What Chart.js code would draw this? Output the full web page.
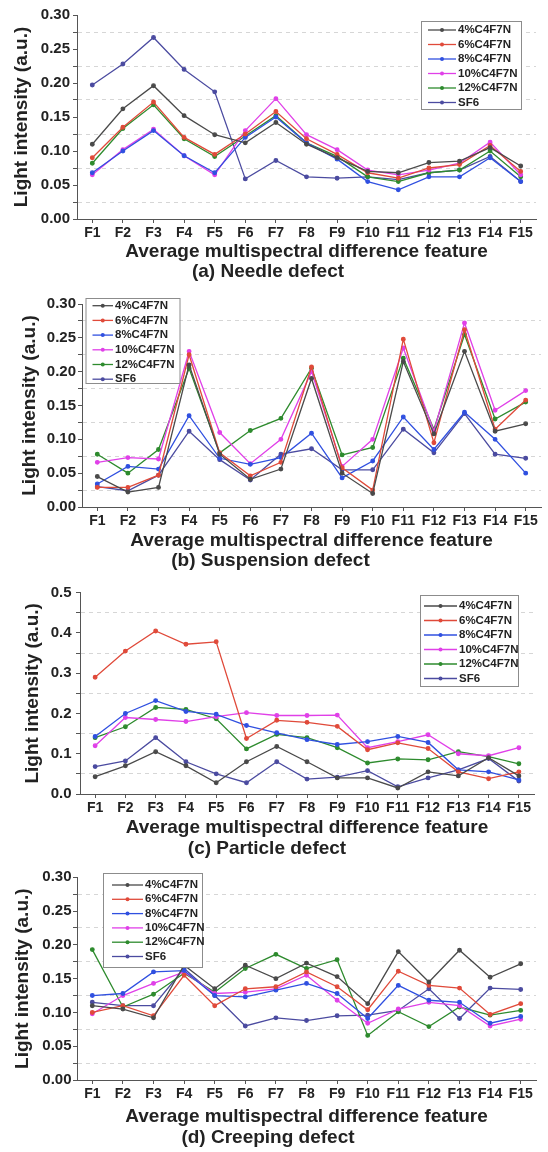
<!DOCTYPE html>
<html>
<head>
<meta charset="utf-8">
<script src="https://cdn.jsdelivr.net/npm/chart.js@4.4.1/dist/chart.umd.min.js"></script>
<style>
body { margin: 0; background: #fff; }
.panel { width: 548px; height: 288px; }
canvas { display: block; }
</style>
</head>
<body>
<div class="panel"><canvas id="needle" width="548" height="288"></canvas></div>
<div class="panel"><canvas id="suspension" width="548" height="288"></canvas></div>
<div class="panel"><canvas id="particle" width="548" height="288"></canvas></div>
<div class="panel"><canvas id="creeping" width="548" height="288"></canvas></div>
<script>
const features = ['F1','F2','F3','F4','F5','F6','F7','F8','F9','F10','F11','F12','F13','F14','F15'];
const seriesNames = ['4%C4F7N','6%C4F7N','8%C4F7N','10%C4F7N','12%C4F7N','SF6'];
const seriesColors = ['#4a4a4a','#e04a3a','#3050e0','#e040e8','#2e8b2e','#4b4ba0'];
const yLabels30 = ['0.00','0.05','0.10','0.15','0.20','0.25','0.30'];
const yLabels05 = ['0.0','0.1','0.2','0.3','0.4','0.5'];

// (a) needle defect
const needle4   = [0.110, 0.162, 0.196, 0.152, 0.124, 0.112, 0.142, 0.110, 0.090, 0.070, 0.068, 0.083, 0.085, 0.105, 0.078];
const needle6   = [0.090, 0.135, 0.172, 0.120, 0.095, 0.125, 0.158, 0.118, 0.095, 0.068, 0.060, 0.075, 0.080, 0.108, 0.070];
const needle8   = [0.068, 0.100, 0.130, 0.093, 0.068, 0.120, 0.150, 0.112, 0.088, 0.055, 0.043, 0.062, 0.062, 0.090, 0.055];
const needle10  = [0.065, 0.102, 0.132, 0.093, 0.065, 0.130, 0.177, 0.124, 0.102, 0.072, 0.065, 0.072, 0.082, 0.113, 0.065];
const needle12  = [0.082, 0.133, 0.168, 0.118, 0.092, 0.122, 0.152, 0.112, 0.092, 0.062, 0.055, 0.068, 0.072, 0.100, 0.062];
const needleSF6 = [0.197, 0.228, 0.267, 0.220, 0.187, 0.059, 0.086, 0.062, 0.060, 0.062, 0.058, 0.068, 0.072, 0.092, 0.055];

// (b) suspension defect
const susp4   = [0.045, 0.022, 0.029, 0.210, 0.078, 0.041, 0.056, 0.190, 0.050, 0.020, 0.215, 0.108, 0.230, 0.112, 0.123];
const susp6   = [0.029, 0.029, 0.047, 0.225, 0.080, 0.046, 0.066, 0.207, 0.058, 0.025, 0.248, 0.095, 0.262, 0.115, 0.158];
const susp8   = [0.034, 0.060, 0.056, 0.135, 0.072, 0.063, 0.073, 0.109, 0.043, 0.068, 0.133, 0.085, 0.140, 0.100, 0.050];
const susp10  = [0.066, 0.073, 0.071, 0.230, 0.110, 0.064, 0.100, 0.200, 0.060, 0.100, 0.235, 0.112, 0.272, 0.143, 0.172];
const susp12  = [0.078, 0.050, 0.085, 0.205, 0.080, 0.113, 0.131, 0.205, 0.077, 0.088, 0.220, 0.115, 0.255, 0.130, 0.155];
const suspSF6 = [0.030, 0.024, 0.047, 0.112, 0.070, 0.040, 0.078, 0.086, 0.055, 0.055, 0.115, 0.080, 0.138, 0.078, 0.072];

// (c) particle defect
const part4   = [0.043, 0.070, 0.105, 0.070, 0.028, 0.080, 0.118, 0.080, 0.040, 0.040, 0.015, 0.055, 0.045, 0.090, 0.045];
const part6   = [0.290, 0.355, 0.405, 0.372, 0.378, 0.138, 0.183, 0.178, 0.168, 0.110, 0.127, 0.113, 0.055, 0.038, 0.055];
const part8   = [0.143, 0.200, 0.232, 0.205, 0.198, 0.170, 0.152, 0.135, 0.123, 0.130, 0.143, 0.128, 0.060, 0.055, 0.035];
const part10  = [0.120, 0.190, 0.185, 0.180, 0.192, 0.202, 0.195, 0.195, 0.196, 0.115, 0.130, 0.147, 0.100, 0.095, 0.115];
const part12  = [0.140, 0.167, 0.215, 0.210, 0.187, 0.112, 0.148, 0.140, 0.115, 0.077, 0.087, 0.085, 0.105, 0.093, 0.075];
const partSF6 = [0.068, 0.082, 0.140, 0.080, 0.050, 0.028, 0.080, 0.037, 0.042, 0.058, 0.018, 0.040, 0.060, 0.088, 0.032];

// (d) creeping defect
const creep4   = [0.110, 0.105, 0.092, 0.170, 0.135, 0.170, 0.150, 0.173, 0.153, 0.113, 0.190, 0.145, 0.192, 0.152, 0.172];
const creep6   = [0.100, 0.110, 0.095, 0.155, 0.110, 0.135, 0.138, 0.160, 0.138, 0.104, 0.161, 0.140, 0.136, 0.097, 0.113];
const creep8   = [0.125, 0.128, 0.160, 0.162, 0.125, 0.123, 0.133, 0.143, 0.128, 0.091, 0.140, 0.118, 0.115, 0.084, 0.094];
const creep10  = [0.098, 0.125, 0.143, 0.160, 0.128, 0.130, 0.135, 0.155, 0.118, 0.084, 0.105, 0.115, 0.110, 0.080, 0.090];
const creep12  = [0.193, 0.108, 0.127, 0.158, 0.130, 0.165, 0.186, 0.165, 0.178, 0.066, 0.101, 0.079, 0.108, 0.096, 0.103];
const creepSF6 = [0.115, 0.110, 0.110, 0.165, 0.125, 0.080, 0.092, 0.088, 0.095, 0.096, 0.103, 0.135, 0.091, 0.136, 0.134];

const FONT = '"Liberation Sans", Arial, sans-serif';
Chart.defaults.font.family = FONT;
Chart.defaults.font.weight = 'bold';
Chart.defaults.color = '#222';

// legend box drawn inside the plot, like the origin plots
const boxLegend = {
	id: 'boxLegend',
	afterDatasetsDraw(chart, args, o) {
		const ctx = chart.ctx;
		ctx.save();
		ctx.fillStyle = '#fff';
		ctx.fillRect(o.x, o.y, o.w, o.h);
		ctx.strokeStyle = '#8c8c8c';
		ctx.lineWidth = 1;
		ctx.strokeRect(o.x + 0.5, o.y + 0.5, o.w, o.h);
		ctx.font = 'bold 11.5px ' + FONT;
		ctx.textBaseline = 'middle';
		chart.data.datasets.forEach((ds, i) => {
			const cy = o.y + o.first + i * o.row;
			ctx.strokeStyle = ds.borderColor;
			ctx.lineWidth = 1.3;
			ctx.beginPath();
			ctx.moveTo(o.x + o.l0, cy);
			ctx.lineTo(o.x + o.l1, cy);
			ctx.stroke();
			ctx.fillStyle = ds.borderColor;
			ctx.beginPath();
			ctx.arc(o.x + (o.l0 + o.l1) / 2, cy, 2, 0, Math.PI * 2);
			ctx.fill();
			ctx.fillStyle = '#222';
			ctx.fillText(ds.label, o.x + o.tx, cy);
		});
		ctx.restore();
	}
};

function drawPanel(id, series, p) {
	const subTop = p.sub - 9.5;
	new Chart(document.getElementById(id), {
		type: 'line',
		data: {
			labels: features,
			datasets: series.map((vals, i) => ({
				label: seriesNames[i],
				data: vals,
				borderColor: seriesColors[i],
				backgroundColor: seriesColors[i],
				borderWidth: 1.3,
				pointRadius: 1.8,
				pointHoverRadius: 1.8,
				tension: 0
			}))
		},
		options: {
			responsive: false,
			animation: false,
			layout: { padding: { left: 0, top: p.top, right: 548 - p.right, bottom: 0 } },
			plugins: {
				legend: { display: false },
				tooltip: { enabled: false },
				title: {
					display: true,
					position: 'bottom',
					text: p.title,
					font: { size: 19, weight: 'bold', lineHeight: 1 },
					padding: { top: 0, bottom: 288 - subTop - 19 }
				},
				boxLegend: p.legend
			},
			scales: {
				x: {
					offset: true,
					grid: { drawOnChartArea: false, drawTicks: true, tickLength: 4, tickColor: '#555' },
					border: { color: '#555', width: 1 },
					ticks: { font: { size: 14 }, padding: 2, autoSkip: false, maxRotation: 0 },
					title: {
						display: true,
						text: 'Average multispectral difference feature',
						font: { size: 19, weight: 'bold', lineHeight: 1 },
						padding: { top: 0, bottom: subTop - 9.5 - p.xt }
					},
					afterFit: (s) => { s.height = subTop - p.bottom; }
				},
				y: {
					min: 0,
					max: p.max,
					grid: {
						color: (c) => (c.index % 2 === 1 ? '#d6d6d6' : 'rgba(0,0,0,0)'),
						lineWidth: 1,
						tickLength: 4,
						tickColor: '#555'
					},
					border: { color: '#555', width: 1, dash: [4, 4] },
					ticks: {
						stepSize: p.max / (p.labels.length - 1) / 2,
						autoSkip: false,
						font: { size: 15 },
						padding: p.tp,
						callback: (v, i) => (i % 2 === 0 ? p.labels[i / 2] : '')
					},
					title: {
						display: true,
						text: 'Light intensity (a.u.)',
						font: { size: 19, weight: 'bold', lineHeight: 1 },
						padding: { top: p.yt - 9.5, bottom: 0 }
					},
					afterFit: (s) => { s.width = p.left; }
				}
			}
		},
		plugins: [boxLegend]
	});
}

drawPanel('needle', [needle4, needle6, needle8, needle10, needle12, needleSF6], {
	left: 77, right: 536, top: 15, bottom: 219, sub: 272, xt: 252, yt: 22, tp: 3,
	max: 0.30, labels: yLabels30, title: '(a) Needle defect',
	legend: { x: 421, y: 21, w: 100, h: 88, first: 9, row: 14.5, l0: 7, l1: 35, tx: 37 }
});
drawPanel('suspension', [susp4, susp6, susp8, susp10, susp12, suspSF6], {
	left: 82, right: 541, top: 16, bottom: 219, sub: 273, xt: 253, yt: 29.5, tp: 2,
	max: 0.30, labels: yLabels30, title: '(b) Suspension defect',
	legend: { x: 85.5, y: 10, w: 94, h: 85, first: 7.7, row: 14.7, l0: 7, l1: 27.5, tx: 29.5 }
});
drawPanel('particle', [part4, part6, part8, part10, part12, partSF6], {
	left: 80, right: 534, top: 16.7, bottom: 218, sub: 272.3, xt: 251.3, yt: 33, tp: 4.5,
	max: 0.5, labels: yLabels05, title: '(c) Particle defect',
	legend: { x: 420, y: 19, w: 98, h: 91, first: 11, row: 14.5, l0: 4, l1: 37, tx: 39 }
});
drawPanel('creeping', [creep4, creep6, creep8, creep10, creep12, creepSF6], {
	left: 77, right: 536, top: 13.3, bottom: 216, sub: 273.7, xt: 252.7, yt: 22.5, tp: 1.5,
	max: 0.30, labels: yLabels30, title: '(d) Creeping defect',
	legend: { x: 103, y: 9, w: 99, h: 94, first: 12, row: 14.3, l0: 9, l1: 40, tx: 42 }
});
</script>
</body>
</html>
